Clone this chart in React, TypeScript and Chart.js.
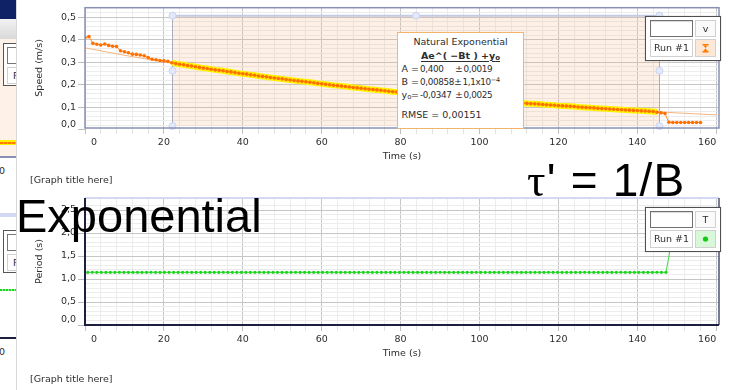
import React, { useEffect, useRef } from 'react';
import { Chart, registerables } from 'chart.js';

Chart.register(...registerables);

const FONT = '"DejaVu Sans", Verdana, sans-serif';
const INK = '#2d2d2d';

// ---------- Top graph: Speed ----------
const speedTime = [
  0, 1, 2, 3, 4, 5, 6, 7, 8, 9, 10, 11, 12, 13, 14, 15, 16, 17, 18, 19,
  20, 21, 22, 23, 24, 25, 26, 27, 28, 29, 30, 31, 32, 33, 34, 35, 36, 37, 38, 39,
  40, 41, 42, 43, 44, 45, 46, 47, 48, 49, 50, 51, 52, 53, 54, 55, 56, 57, 58, 59,
  60, 61, 62, 63, 64, 65, 66, 67, 68, 69, 70, 71, 72, 73, 74, 75, 76, 77, 78, 79,
  80, 81, 82, 83, 84, 85, 86, 87, 88, 89, 90, 91, 92, 93, 94, 95, 96, 97, 98, 99,
  100, 101, 102, 103, 104, 105, 106, 107, 108, 109, 110, 111, 112, 113, 114, 115, 116, 117, 118, 119,
  120, 121, 122, 123, 124, 125, 126, 127, 128, 129, 130, 131, 132, 133, 134, 135, 136, 137, 138, 139,
  140, 141, 142, 143, 144, 145, 146, 147, 148, 149, 150, 151, 152, 153, 154, 155, 156,
];
const speedValues = [
  0.41, 0.415, 0.385, 0.381, 0.378, 0.382, 0.376, 0.372, 0.371, 0.352, 0.348, 0.343, 0.337, 0.336, 0.333, 0.33, 0.322, 0.314, 0.312, 0.309,
  0.307, 0.305, 0.299, 0.295, 0.292, 0.29, 0.286, 0.284, 0.281, 0.278, 0.275, 0.273, 0.27, 0.267, 0.265, 0.263, 0.26, 0.258, 0.255, 0.252,
  0.25, 0.248, 0.245, 0.243, 0.24, 0.238, 0.236, 0.233, 0.231, 0.229, 0.227, 0.224, 0.222, 0.22, 0.218, 0.216, 0.214, 0.212, 0.21, 0.207,
  0.205, 0.203, 0.201, 0.199, 0.197, 0.195, 0.193, 0.191, 0.189, 0.187, 0.185, 0.183, 0.181, 0.18, 0.178, 0.176, 0.174, 0.172, 0.17, 0.169,
  0.167, 0.165, 0.163, 0.162, 0.16, 0.158, 0.157, 0.155, 0.154, 0.152, 0.15, 0.149, 0.147, 0.146, 0.144, 0.143, 0.141, 0.14, 0.138, 0.137,
  0.135, 0.134, 0.132, 0.131, 0.129, 0.128, 0.127, 0.125, 0.124, 0.122, 0.121, 0.12, 0.118, 0.117, 0.116, 0.115, 0.113, 0.112, 0.111, 0.11,
  0.108, 0.107, 0.106, 0.105, 0.104, 0.102, 0.101, 0.1, 0.099, 0.098, 0.096, 0.095, 0.094, 0.093, 0.092, 0.091, 0.09, 0.089, 0.088, 0.087,
  0.086, 0.085, 0.084, 0.083, 0.082, 0.079, 0.076, 0.073, 0.034, 0.033, 0.033, 0.033, 0.033, 0.033, 0.033, 0.033, 0.033,
];
// Fitted curve (Natural Exponential fit)
const fitTime = [0, 10, 20, 30, 40, 50, 60, 70, 80, 90, 100, 110, 120, 130, 140, 150, 160];
const fitValues = [0.365, 0.332, 0.302, 0.275, 0.249, 0.226, 0.204, 0.185, 0.167, 0.15, 0.135, 0.121, 0.108, 0.096, 0.086, 0.076, 0.067];
const selectionStart = 22;
const selectionEnd = 145.6;

// ---------- Bottom graph: Period ----------
const periodTime = [
  0.7, 1.85, 2.99, 4.14, 5.28, 6.43, 7.57, 8.72, 9.86, 11.01, 12.15, 13.3, 14.44, 15.59, 16.73, 17.88, 19.02, 20.17, 21.31, 22.46,
  23.6, 24.75, 25.89, 27.04, 28.18, 29.33, 30.47, 31.62, 32.76, 33.91, 35.05, 36.2, 37.34, 38.49, 39.63, 40.78, 41.92, 43.07, 44.21, 45.36,
  46.5, 47.65, 48.79, 49.94, 51.08, 52.23, 53.37, 54.52, 55.66, 56.81, 57.95, 59.1, 60.24, 61.39, 62.53, 63.68, 64.82, 65.97, 67.11, 68.26,
  69.4, 70.55, 71.69, 72.84, 73.98, 75.13, 76.27, 77.42, 78.56, 79.71, 80.85, 82.0, 83.14, 84.29, 85.43, 86.58, 87.72, 88.87, 90.01, 91.16,
  92.3, 93.45, 94.59, 95.74, 96.88, 98.03, 99.17, 100.32, 101.46, 102.61, 103.75, 104.9, 106.04, 107.19, 108.33, 109.48, 110.62, 111.77, 112.91, 114.06,
  115.2, 116.35, 117.49, 118.64, 119.78, 120.93, 122.07, 123.22, 124.36, 125.51, 126.65, 127.8, 128.94, 130.09, 131.23, 132.38, 133.52, 134.67, 135.81, 136.96,
  138.1, 139.25, 140.39, 141.54, 142.68, 143.83, 144.97, 146.12, 147.26, 149.6,
];
const periodValues = [
  1.146, 1.147, 1.146, 1.146, 1.145, 1.146, 1.146, 1.147, 1.146, 1.146, 1.145, 1.146, 1.146, 1.146, 1.147, 1.146, 1.146, 1.145, 1.146, 1.146,
  1.146, 1.146, 1.147, 1.146, 1.146, 1.145, 1.146, 1.146, 1.146, 1.146, 1.147, 1.146, 1.146, 1.145, 1.146, 1.146, 1.146, 1.146, 1.147, 1.146,
  1.146, 1.145, 1.146, 1.146, 1.146, 1.146, 1.147, 1.146, 1.146, 1.145, 1.146, 1.146, 1.146, 1.146, 1.147, 1.146, 1.146, 1.145, 1.146, 1.146,
  1.146, 1.146, 1.147, 1.146, 1.146, 1.145, 1.146, 1.146, 1.146, 1.146, 1.147, 1.146, 1.146, 1.145, 1.146, 1.146, 1.146, 1.146, 1.147, 1.146,
  1.146, 1.145, 1.146, 1.146, 1.146, 1.146, 1.147, 1.146, 1.146, 1.145, 1.146, 1.146, 1.146, 1.146, 1.147, 1.146, 1.146, 1.145, 1.146, 1.146,
  1.146, 1.146, 1.147, 1.146, 1.146, 1.145, 1.146, 1.146, 1.146, 1.146, 1.147, 1.146, 1.146, 1.145, 1.146, 1.146, 1.146, 1.146, 1.147, 1.146,
  1.146, 1.145, 1.146, 1.146, 1.146, 1.146, 1.147, 1.146, 1.146, 2.24,
];

// ---------- Axes ----------
const timeMin = 0;
const timeMax = 160.7;
const timeMajorStep = 20;
const timeMinorPerMajor = 5;
const timeLastTick = 160;

const speedMin = 0.0087;
const speedMax = 0.5435;
const speedMajorStep = 0.1;
const speedMinorPerMajor = 5;
const speedMajorCount = 5;

const periodMin = 0;
const periodMax = 2.761;
const periodMajorStep = 0.5;
const periodMinorPerMajor = 5;
const periodMajorCount = 5;

const pairs = (xs: number[], ys: number[]) => xs.map((x, i) => ({ x, y: ys[i] }));

type YSpec = {
  min: number;
  max: number;
  step: number;
  minorPer: number;
  majorCount: number;
  title: string;
};

function buildOptions(H: number, chartTop: number, chartBottom: number, yspec: YSpec, xTitlePad: number): any {
  const font = { family: FONT, size: 9.5 };
  return {
    responsive: false,
    animation: false,
    events: [],
    layout: { padding: { left: 0, right: 12, top: chartTop, bottom: 0 } },
    plugins: { legend: { display: false }, tooltip: { enabled: false } },
    scales: {
      x: {
        type: 'linear',
        min: timeMin,
        max: timeMax,
        afterBuildTicks: (s: any) => {
          const t: any[] = [];
          const n = (timeLastTick / timeMajorStep) * timeMinorPerMajor;
          for (let i = 0; i <= n; i++) t.push({ value: (i * timeMajorStep) / timeMinorPerMajor });
          s.ticks = t;
        },
        afterFit: (s: any) => {
          s.height = H - chartBottom;
        },
        border: { display: false },
        grid: {
          color: (c: any) => (c.tick && c.index % timeMinorPerMajor === 0 ? '#c6c6c6' : '#ececec'),
          tickColor: (c: any) => (c.tick && c.index % timeMinorPerMajor === 0 ? '#c0c0c0' : '#e2e2e2'),
          tickLength: 6,
          lineWidth: 1,
        },
        ticks: {
          autoSkip: false,
          maxRotation: 0,
          align: 'inner',
          padding: 3,
          color: INK,
          font,
          callback: (v: number, i: number) => {
            if (i % timeMinorPerMajor !== 0) return '';
            return i === 0 ? '  0' : String(Math.round(v));
          },
        },
        title: { display: true, text: 'Time (s)', color: INK, font, padding: { top: 0, bottom: xTitlePad } },
      },
      y: {
        type: 'linear',
        min: yspec.min,
        max: yspec.max,
        afterBuildTicks: (s: any) => {
          const t: any[] = [];
          const n = yspec.majorCount * yspec.minorPer;
          for (let i = 0; i <= n + 1; i++) {
            const v = (i * yspec.step) / yspec.minorPer;
            if (v > yspec.max) break;
            t.push({ value: v });
          }
          s.ticks = t;
        },
        afterFit: (s: any) => {
          s.width = 85;
        },
        border: { display: false },
        grid: {
          color: (c: any) => {
            if (!c.tick) return '#ececec';
            if (c.index === 0) return 'rgba(0,0,0,0)';
            return c.index % yspec.minorPer === 0 ? '#c6c6c6' : '#ececec';
          },
          tickColor: (c: any) => (c.tick && c.index % yspec.minorPer === 0 ? '#bdbdbd' : 'rgba(0,0,0,0)'),
          tickLength: 7,
          lineWidth: 1,
        },
        ticks: {
          autoSkip: false,
          padding: 2,
          color: INK,
          font,
          callback: (v: number, i: number) => {
            if (i % yspec.minorPer !== 0) return '';
            const major = i / yspec.minorPer;
            const txt = (major * yspec.step).toFixed(1).replace('.', ',');
            return i === 0 ? [txt, ''] : txt;
          },
        },
        title: { display: true, text: yspec.title, color: INK, font, padding: { top: 34.3, bottom: 0 } },
      },
    },
  };
}

const topPlugin = {
  id: 'topDecor',
  beforeDatasetsDraw(chart: any) {
    const { ctx, chartArea, scales } = chart;
    const x1 = Math.round(scales.x.getPixelForValue(selectionStart)) + 0.5;
    const x2 = Math.round(scales.x.getPixelForValue(selectionEnd)) + 0.5;
    const top = chartArea.top + 8;
    const bottom = chartArea.bottom - 2;
    ctx.save();
    ctx.fillStyle = 'rgba(245,180,130,0.2)';
    ctx.fillRect(x1, top, x2 - x1, bottom - top);
    ctx.strokeStyle = '#a9adc2';
    ctx.lineWidth = 1;
    ctx.beginPath();
    ctx.moveTo(x1, top);
    ctx.lineTo(x1, bottom);
    ctx.moveTo(x2, top);
    ctx.lineTo(x2, bottom);
    ctx.stroke();
    ctx.strokeStyle = '#c3cae4';
    ctx.lineWidth = 2;
    ctx.beginPath();
    ctx.moveTo(x1, top);
    ctx.lineTo(x2, top);
    ctx.stroke();
    ctx.restore();
  },
  afterDatasetsDraw(chart: any) {
    const { ctx, chartArea, scales } = chart;
    const x1 = Math.round(scales.x.getPixelForValue(selectionStart)) + 0.5;
    const x2 = Math.round(scales.x.getPixelForValue(selectionEnd)) + 0.5;
    const top = chartArea.top + 8;
    const bottom = chartArea.bottom - 2;
    const mid = (top + bottom) / 2;
    const pts = [
      [x1, top], [x1, mid], [x1, bottom], [x2, top], [x2, mid], [x2, bottom], [(x1 + x2) / 2, top],
    ];
    ctx.save();
    for (const [px, py] of pts) {
      ctx.beginPath();
      ctx.arc(px, py, 3.5, 0, Math.PI * 2);
      ctx.fillStyle = '#e3e9fb';
      ctx.fill();
      ctx.strokeStyle = '#cad3f0';
      ctx.lineWidth = 1;
      ctx.stroke();
    }
    const { left, right } = chartArea;
    ctx.strokeStyle = '#8a90b4';
    ctx.lineWidth = 1.5;
    ctx.strokeRect(left, chartArea.top, right - left, chartArea.bottom - chartArea.top);
    ctx.restore();
  },
};

const bottomPlugin = {
  id: 'bottomDecor',
  afterDatasetsDraw(chart: any) {
    const { ctx, chartArea } = chart;
    const { left, right, top, bottom } = chartArea;
    ctx.save();
    ctx.strokeStyle = '#d3d9f2';
    ctx.lineWidth = 2;
    ctx.beginPath();
    ctx.moveTo(left, top);
    ctx.lineTo(right, top);
    ctx.stroke();
    ctx.strokeStyle = '#4b5070';
    ctx.lineWidth = 1.5;
    ctx.beginPath();
    ctx.moveTo(right, top);
    ctx.lineTo(right, bottom);
    ctx.stroke();
    ctx.strokeStyle = '#1c1f3e';
    ctx.lineWidth = 2;
    ctx.beginPath();
    ctx.moveTo(left, top);
    ctx.lineTo(left, bottom);
    ctx.lineTo(right, bottom);
    ctx.stroke();
    ctx.restore();
  },
};

function SpeedChart() {
  const ref = useRef<HTMLCanvasElement>(null);
  useEffect(() => {
    const H = 190;
    const highlight = pairs(speedTime, speedValues).filter((p) => p.x >= selectionStart && p.x <= selectionEnd);
    const chart = new Chart(ref.current as HTMLCanvasElement, {
      type: 'scatter',
      data: {
        datasets: [
          {
            data: pairs(speedTime, speedValues),
            showLine: true,
            borderColor: '#ff8a1c',
            borderWidth: 1,
            pointRadius: 1.8,
            pointBackgroundColor: '#ff7000',
            pointBorderWidth: 0,
            order: 0,
          },
          {
            data: highlight,
            showLine: true,
            borderColor: '#fff200',
            borderWidth: 6,
            pointRadius: 0,
            order: 1,
          },
          {
            data: pairs(fitTime, fitValues),
            showLine: true,
            borderColor: '#f6b47e',
            borderWidth: 1,
            pointRadius: 0,
            cubicInterpolationMode: 'monotone',
            order: 2,
          },
        ],
      },
      options: buildOptions(H, 5, 128, {
        min: speedMin, max: speedMax, step: speedMajorStep, minorPer: speedMinorPerMajor, majorCount: speedMajorCount, title: 'Speed (m/s)',
      }, 27.3),
      plugins: [topPlugin],
    } as any);
    return () => chart.destroy();
  }, []);
  return <canvas ref={ref} width={731} height={190} style={{ position: 'absolute', left: 0, top: 0, width: 731, height: 190 }} />;
}

function PeriodChart() {
  const ref = useRef<HTMLCanvasElement>(null);
  useEffect(() => {
    const H = 200;
    const chart = new Chart(ref.current as HTMLCanvasElement, {
      type: 'scatter',
      data: {
        datasets: [
          {
            data: pairs(periodTime, periodValues),
            showLine: true,
            borderColor: '#3fdc3f',
            borderWidth: 1,
            pointRadius: 1.6,
            pointBackgroundColor: '#1fd21f',
            pointBorderWidth: 0,
          },
        ],
      },
      options: buildOptions(H, 8, 135, {
        min: periodMin, max: periodMax, step: periodMajorStep, minorPer: periodMinorPerMajor, majorCount: periodMajorCount, title: 'Period (s)',
      }, 30.3),
      plugins: [bottomPlugin],
    } as any);
    return () => chart.destroy();
  }, []);
  return <canvas ref={ref} width={731} height={200} style={{ position: 'absolute', left: 0, top: 190, width: 731, height: 200 }} />;
}

const txt: React.CSSProperties = { fontFamily: FONT, fontSize: 9.5, color: INK, lineHeight: '12px', whiteSpace: 'pre' };
const abs = (l: number, t: number, w?: number, h?: number): React.CSSProperties => ({ position: 'absolute', left: l, top: t, width: w, height: h, boxSizing: 'border-box' });

function Legend({ top, letter, kind }: { top: number; letter: string; kind: 'orange' | 'green' }) {
  return (
    <div style={{ ...abs(645, top, 76, 45), background: '#fff', border: '1px solid #505050', boxShadow: '0 0 1px rgba(0,0,0,0.3)' }}>
      <div style={{ ...abs(4, 3, 43, 17), border: '1px solid #707070', boxShadow: 'inset 0 1px 1px rgba(0,0,0,0.15)', background: '#fff' }} />
      <div style={{ ...abs(49, 3, 21, 17), border: '1px solid #d0d0d0', background: '#fafafa', ...txt, textAlign: 'center', lineHeight: '15px' }}>{letter}</div>
      <div style={{ ...abs(4, 22, 43, 18), border: '1px solid #d0d0d0', ...txt, textAlign: 'center', lineHeight: '16px' }}>Run #1</div>
      <div style={{ ...abs(49, 22, 21, 18), border: '1px solid #d0d0d0', background: kind === 'orange' ? '#fde7d6' : '#d9f7d9' }}>
        {kind === 'orange' ? (
          <svg width={19} height={16} style={{ position: 'absolute', left: 0, top: 0 }}>
            <rect x={6.5} y={4} width={6} height={1.5} fill="#ff7a00" />
            <rect x={6.5} y={11} width={6} height={1.5} fill="#ff7a00" />
            <polygon points="7.5,5.5 11.5,5.5 9.5,8.2" fill="#ff7a00" />
            <polygon points="7.5,11 11.5,11 9.5,8.2" fill="#ff7a00" />
          </svg>
        ) : (
          <svg width={19} height={16} style={{ position: 'absolute', left: 0, top: 0 }}>
            <circle cx={9.5} cy={8} r={2.6} fill="#11cc11" />
          </svg>
        )}
      </div>
    </div>
  );
}

function FitBox() {
  const num: React.CSSProperties = { ...txt, fontSize: 8.8, letterSpacing: -0.35 };
  const line = (t: number, label: React.ReactNode, value: string, errX: number, err: React.ReactNode) => (
    <>
      <div style={{ ...abs(3.5, t), ...txt }}>{label}</div>
      <div style={{ ...abs(13, t), ...txt }}>=</div>
      <div style={{ ...abs(22, t), ...num }}>{value}</div>
      <div style={{ ...abs(errX, t), ...txt }}>±</div>
      <div style={{ ...abs(errX + 8.5, t), ...num }}>{err}</div>
    </>
  );
  const sub = <span style={{ fontSize: 7, position: 'relative', top: 1.5 }}>o</span>;
  return (
    <div style={{ ...abs(397, 32, 127, 97), background: '#fff', border: '1px solid #f3b46c' }}>
      <div style={{ ...abs(0, 2.5, 125), ...txt, textAlign: 'center' }}>Natural Exponential</div>
      <div style={{ ...abs(0, 16.5, 125), ...txt, textAlign: 'center', fontWeight: 'bold' }}>
        <span style={{ textDecoration: 'underline', textUnderlineOffset: 1.5 }}>Ae^( −Bt ) +y{sub}</span>
      </div>
      {line(29.5, 'A', '0,400', 57, '0,0019')}
      {line(43, 'B', '0,00858', 56, <>1,1x10<span style={{ fontSize: 6.5, position: 'relative', top: -3.5 }}>−4</span></>)}
      {line(55.5, <>y{sub}</>, '-0,0347', 57, '0,0025')}
      <div style={{ ...abs(3.5, 75.5), ...txt }}>RMSE = 0,00151</div>
    </div>
  );
}

function LeftStrip() {
  return (
    <div style={{ ...abs(0, 0, 17, 390), overflow: 'hidden', background: '#fff' }}>
      <div style={{ ...abs(0, 0, 17, 19), background: '#0f2265' }} />
      <div style={{ ...abs(0, 19, 17, 20), background: 'linear-gradient(#f2f2f2,#d9d9d9)' }} />
      <div style={{ ...abs(0, 39, 17, 118), background: '#fdf1e8' }} />
      <div style={{ ...abs(3, 43, 30, 43), border: '1px solid #555', background: '#fff' }} />
      <div style={{ ...abs(7, 47, 30, 17), border: '1px solid #777' }} />
      <div style={{ ...abs(7, 67, 30, 17), border: '1px solid #d0d0d0', ...txt, lineHeight: '16px', paddingLeft: 5 }}>R</div>
      <div style={{ ...abs(0, 140, 17, 5), background: '#fff200' }} />
      <div style={{ ...abs(0, 141.5, 17, 2), background: 'repeating-linear-gradient(90deg,#ff7a00 0 3px,#ffa040 3px 4px)' }} />
      <div style={{ ...abs(0, 156, 17, 1.5), background: '#8a90b4' }} />
      <div style={{ ...abs(-20, 165, 25), ...txt, textAlign: 'right' }}>160</div>
      <div style={{ ...abs(0, 213, 17, 4), background: '#d3d9f2' }} />
      <div style={{ ...abs(3, 230, 30, 43), border: '1px solid #555', background: '#fff' }} />
      <div style={{ ...abs(7, 234, 30, 17), border: '1px solid #777' }} />
      <div style={{ ...abs(7, 254, 30, 17), border: '1px solid #d0d0d0', ...txt, lineHeight: '16px', paddingLeft: 5 }}>R</div>
      <div style={{ ...abs(0, 289, 17, 2), background: 'repeating-linear-gradient(90deg,#1fd21f 0 2px,#8ff08f 2px 3px)' }} />
      <div style={{ ...abs(0, 337, 17, 2), background: '#1c1f3e' }} />
      <div style={{ ...abs(-20, 346, 25), ...txt, textAlign: 'right' }}>160</div>
      <div style={{ ...abs(16, 0, 1, 390), background: '#d8d8d8' }} />
    </div>
  );
}

export default function App() {
  return (
    <div style={{ position: 'fixed', left: 0, top: 0, width: 731, height: 390, background: '#fff', overflow: 'hidden' }}>
      <SpeedChart />
      <PeriodChart />
      <LeftStrip />
      <FitBox />
      <Legend top={16} letter="v" kind="orange" />
      <Legend top={207} letter="T" kind="green" />
      <div style={{ ...abs(30, 174), ...txt }}>[Graph title here]</div>
      <div style={{ ...abs(30, 373), ...txt }}>[Graph title here]</div>
      <div style={{ ...abs(16, 192), fontFamily: '"Liberation Sans", Arial, sans-serif', fontSize: 47, lineHeight: '47px', color: '#000', whiteSpace: 'pre' }}>Exponential</div>
      <div style={{ ...abs(527, 157), fontFamily: '"Liberation Sans", Arial, sans-serif', fontSize: 46, lineHeight: '46px', letterSpacing: 1.2, color: '#000', whiteSpace: 'pre' }}>
        <span style={{ fontFamily: '"Liberation Serif", "DejaVu Serif", serif' }}>τ</span>' = 1/B
      </div>
    </div>
  );
}
